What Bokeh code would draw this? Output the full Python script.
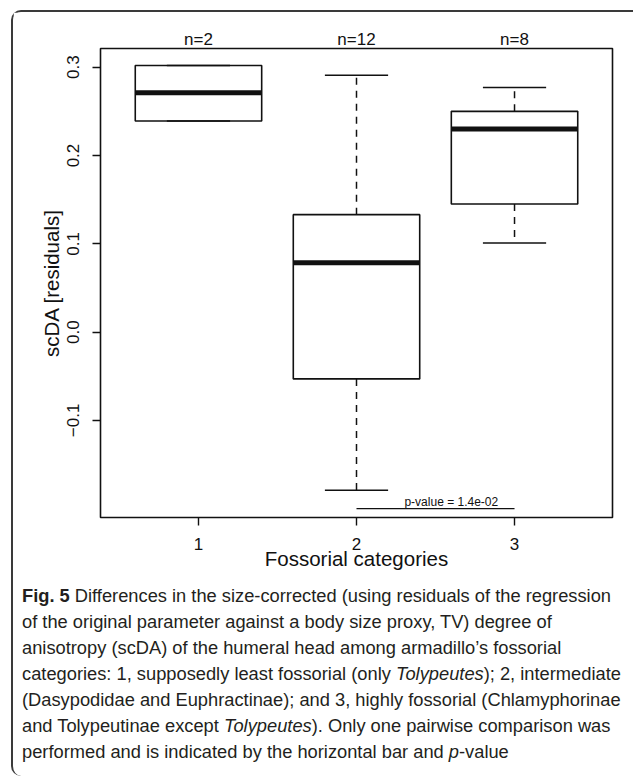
from bokeh.plotting import figure
from bokeh.layouts import column
from bokeh.models import (ColumnDataSource, FixedTicker, Label, LinearAxis, Div,
                          CustomJSTickFormatter)
from bokeh.embed import file_html
from bokeh.resources import INLINE

# ---------------- data ----------------
categories = [1, 2, 3]
n_labels = ["n=2", "n=12", "n=8"]
whisker_low = [0.239, -0.179, 0.101]
q1 = [0.239, -0.053, 0.145]
median = [0.271, 0.0785, 0.230]
q3 = [0.302, 0.133, 0.250]
whisker_high = [0.302, 0.291, 0.277]
y_ticks = [-0.1, 0.0, 0.1, 0.2, 0.3]
y_tick_labels = ["\u22120.1", "0.0", "0.1", "0.2", "0.3"]
x_tick_labels = ["1", "2", "3"]
pair = [2, 3]
p_bar_y = -0.200
p_value_text = "p-value = 1.4e-02"
x_title = "Fossorial categories"
y_title = "scDA [residuals]"

caption_lines = [
    "<b>Fig. 5</b> Differences in the size-corrected (using residuals of the regression",
    "of the original parameter against a body size proxy, TV) degree of",
    "anisotropy (scDA) of the humeral head among armadillo\u2019s fossorial",
    "categories: 1, supposedly least fossorial (only <i>Tolypeutes</i>); 2, intermediate",
    "(Dasypodidae and Euphractinae); and 3, highly fossorial (Chlamyphorinae",
    "and Tolypeutinae except <i>Tolypeutes</i>). Only one pairwise comparison was",
    "performed and is indicated by the horizontal bar and <i>p</i>-value",
]

# ---------------- layout ----------------
OX, OY = 13, 12            # content origin (inside the rounded border)
W = 620
H1 = 568                   # chart figure height
H2 = 196                   # caption height
FL, FR, FT, FB = 100 - OX, 612 - OX, 48 - OY, 517 - OY
X0, X1 = 0.38, 3.62
Y0, Y1 = -0.21, 0.3212
FONT = "Liberation Sans"
INK = "#111111"
BOX_W = 0.8
CAP_W = 0.4

p = figure(width=W, height=H1, x_range=(X0, X1), y_range=(Y0, Y1),
           output_backend="svg", toolbar_location=None,
           min_border_left=FL, min_border_right=W - FR,
           min_border_top=FT, min_border_bottom=H1 - FB)
p.grid.visible = False
p.background_fill_color = "white"
p.border_fill_color = "white"
p.outline_line_color = INK
p.outline_line_width = 1.6

FMT_CODE = "const i = tv.indexOf(tick); return i >= 0 ? tl[i] : '';"
bottom_axis = p.below[0]
left_axis = p.left[0]
bottom_axis.ticker = FixedTicker(ticks=categories)
bottom_axis.formatter = CustomJSTickFormatter(args=dict(tv=categories, tl=x_tick_labels), code=FMT_CODE)
left_axis.ticker = FixedTicker(ticks=y_ticks)
left_axis.formatter = CustomJSTickFormatter(args=dict(tv=y_ticks, tl=y_tick_labels), code=FMT_CODE)

top_axis = LinearAxis(ticker=FixedTicker(ticks=categories),
                      formatter=CustomJSTickFormatter(args=dict(tv=categories, tl=n_labels), code=FMT_CODE))
p.add_layout(top_axis, "above")

for ax in (bottom_axis, left_axis, top_axis):
    ax.axis_line_color = None
    ax.minor_tick_line_color = None
    ax.major_tick_out = 8
    ax.major_tick_in = 0
    ax.major_tick_line_width = 1.4
    ax.major_tick_line_color = INK
    ax.major_label_text_font = FONT
    ax.major_label_text_font_size = "17px"
    ax.major_label_text_color = INK
    ax.axis_label_text_font = FONT
    ax.axis_label_text_font_size = "20.5px"
    ax.axis_label_text_font_style = "normal"
    ax.axis_label_text_color = INK
top_axis.major_tick_out = 0
top_axis.major_tick_line_color = None
top_axis.major_label_standoff = 0

left_axis.major_label_orientation = "vertical"
bottom_axis.major_label_standoff = 12
left_axis.major_label_standoff = 13
bottom_axis.axis_label = x_title
left_axis.axis_label = y_title
bottom_axis.axis_label_standoff = -6
left_axis.axis_label_standoff = 2

# boxplot data
src = ColumnDataSource(dict(
    x=categories, q1=q1, q3=q3, med=median, lo=whisker_low, hi=whisker_high,
    bl=[c - BOX_W / 2 for c in categories], br=[c + BOX_W / 2 for c in categories],
    cl=[c - CAP_W / 2 for c in categories], cr=[c + CAP_W / 2 for c in categories],
))

p.segment(x0="x", y0="q3", x1="x", y1="hi", source=src, line_color=INK,
          line_width=1.5, line_dash="7 6")
p.segment(x0="x", y0="q1", x1="x", y1="lo", source=src, line_color=INK,
          line_width=1.5, line_dash="7 6")
p.vbar(x="x", width=BOX_W, bottom="q1", top="q3", source=src, fill_color="white",
       line_color=INK, line_width=1.6)
p.segment(x0="cl", y0="hi", x1="cr", y1="hi", source=src, line_color=INK, line_width=1.5)
p.segment(x0="cl", y0="lo", x1="cr", y1="lo", source=src, line_color=INK, line_width=1.5)
p.segment(x0="bl", y0="med", x1="br", y1="med", source=src, line_color=INK, line_width=5)

# pairwise comparison bar and its p-value
p.segment(x0=[pair[0]], y0=[p_bar_y], x1=[pair[1]], y1=[p_bar_y], line_color=INK, line_width=1.4)
p.add_layout(Label(x=2.6, y=p_bar_y + 0.0074, text=p_value_text, text_align="center",
                   text_baseline="alphabetic", text_font=FONT, text_font_size="12px",
                   text_color=INK))

# ---------------- caption ----------------
caption_html = (
    "<div style=\"font-family: 'Liberation Sans', Arial, sans-serif; font-size: 18.3px; "
    "line-height: 26px; color: #231f20; white-space: nowrap; "
    "padding: 3px 0 0 9px; margin: 0;\">"
    + "<br>".join(caption_lines)
    + "</div>"
)
cap = Div(text=caption_html, width=W, height=H2, margin=0)

layout = column(p, cap, spacing=0, margin=(OY - 2, 0, 0, OX - 2),
                styles={"border-left": "2px solid #3a3a3a",
                        "border-top": "2px solid #3a3a3a",
                        "border-top-left-radius": "10px",
                        "border-bottom-left-radius": "10px"})

open("out.html", "w").write(file_html(layout, INLINE))
